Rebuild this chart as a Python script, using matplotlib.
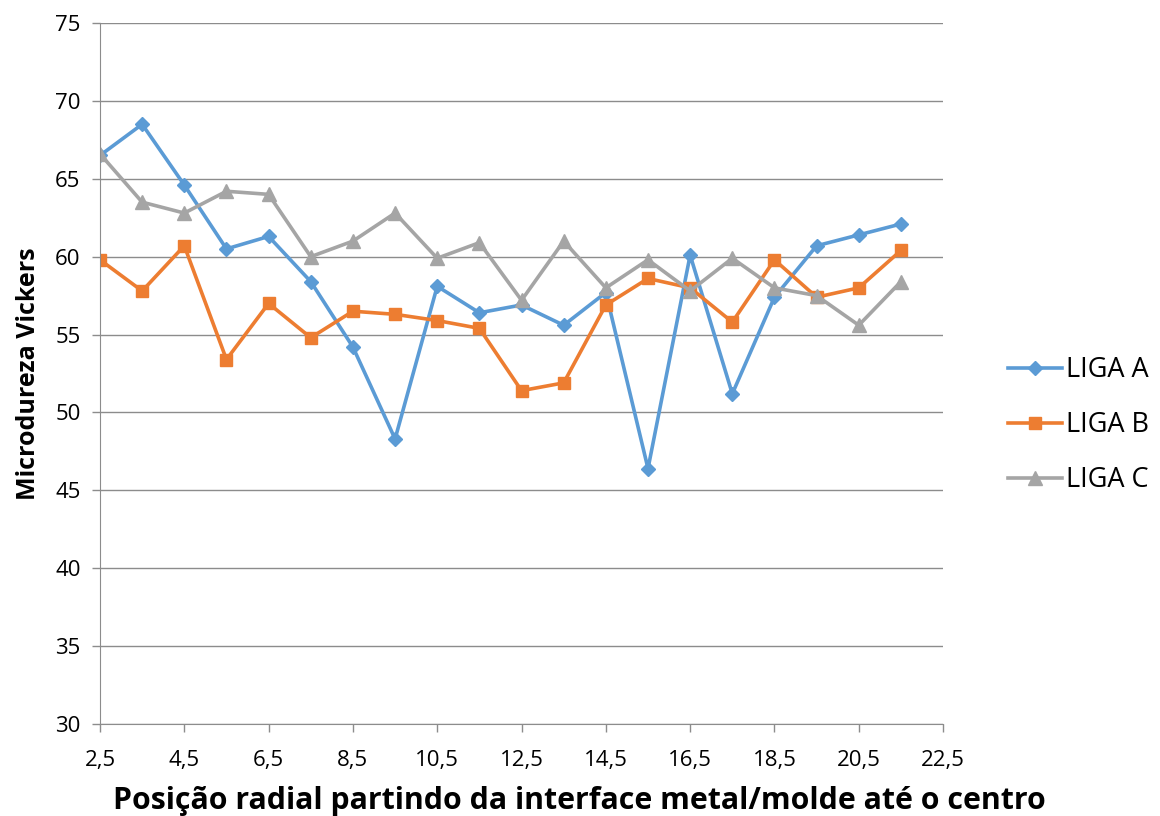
import numpy as np
import matplotlib.pyplot as plt

# radial positions and hardness values
posicao = [2.5, 3.5, 4.5, 5.5, 6.5, 7.5, 8.5, 9.5, 10.5, 11.5,
           12.5, 13.5, 14.5, 15.5, 16.5, 17.5, 18.5, 19.5, 20.5, 21.5]
liga_a = [66.5, 68.5, 64.6, 60.5, 61.3, 58.4, 54.2, 48.3, 58.1, 56.4,
          56.9, 55.6, 57.7, 46.4, 60.1, 51.2, 57.4, 60.7, 61.4, 62.1]
liga_b = [59.8, 57.8, 60.7, 53.4, 57.0, 54.8, 56.5, 56.3, 55.9, 55.4,
          51.4, 51.9, 56.9, 58.6, 58.0, 55.8, 59.8, 57.4, 58.0, 60.4]
liga_c = [66.6, 63.5, 62.8, 64.2, 64.0, 60.0, 61.0, 62.8, 59.9, 60.9,
          57.2, 61.0, 58.0, 59.8, 57.8, 59.9, 58.0, 57.5, 55.6, 58.4]

x_ticks = np.arange(2.5, 23, 2)
y_ticks = np.arange(30, 76, 5)

plt.rcParams['font.family'] = ['Open Sans', 'DejaVu Sans']

fig = plt.figure(figsize=(11.6, 8.16), dpi=100)
ax = fig.add_axes([0.0862, 0.1127, 0.7268, 0.8591])

ax.plot(posicao, liga_a, color='#5B9BD5', lw=2.6, marker='D', ms=7.5, label='LIGA A')
ax.plot(posicao, liga_b, color='#ED7D31', lw=2.6, marker='s', ms=9, label='LIGA B')
ax.plot(posicao, liga_c, color='#A5A5A5', lw=2.6, marker='^', ms=9.5, label='LIGA C')

ax.set_xlim(2.5, 22.5)
ax.set_ylim(30, 75)
ax.set_xticks(x_ticks)
ax.set_xticklabels([f'{v:.1f}'.replace('.', ',') for v in x_ticks])
ax.set_yticks(y_ticks)
ax.yaxis.grid(True, color='#8C8C8C', lw=1)
ax.set_axisbelow(True)

for s in ['top', 'right']:
    ax.spines[s].set_visible(False)
ax.spines['left'].set_color('#8C8C8C')
ax.spines['bottom'].set_color('#8C8C8C')
ax.tick_params(colors='#8C8C8C', labelcolor='black', labelsize=16, length=6, width=1)
ax.tick_params(axis='x', pad=13)
ax.tick_params(axis='y', pad=8)

ax.set_xlabel('Posição radial partindo da interface metal/molde até o centro',
              fontsize=21.8, fontweight='bold')
ax.xaxis.set_label_coords(0.569, -0.088)
ax.set_ylabel('Microdureza Vickers', fontsize=18, fontweight='bold', labelpad=10)

fig.legend(loc='center left', bbox_to_anchor=(0.869, 0.479), frameon=False,
           fontsize=19.5, labelspacing=1.0, handlelength=2.0, handletextpad=0.15,
           borderpad=0, borderaxespad=0)

fig.savefig('out.png', dpi=100)
